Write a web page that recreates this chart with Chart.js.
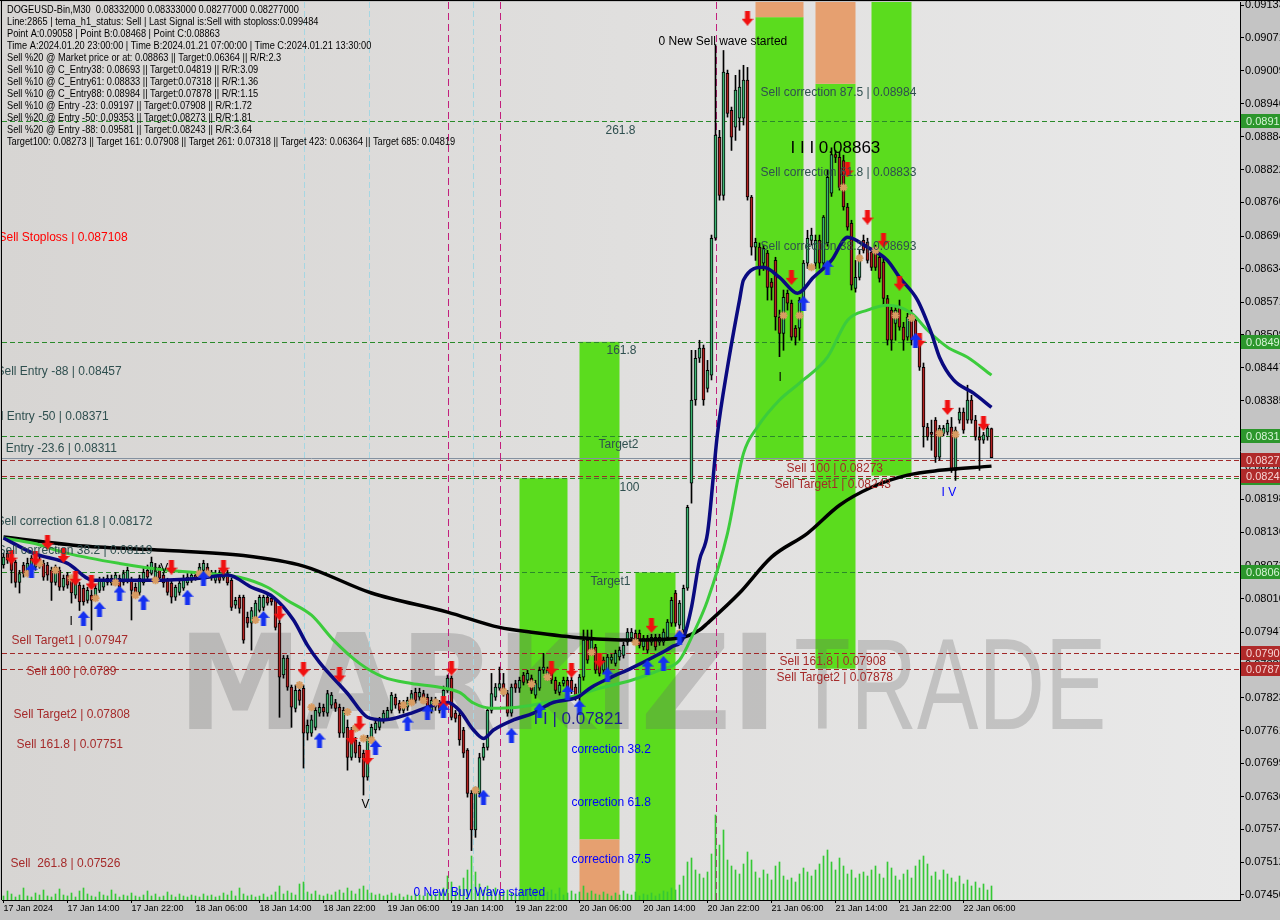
<!DOCTYPE html>
<html>
<head>
<meta charset="utf-8">
<title>DOGEUSD-Bin,M30</title>
<script src="https://cdn.jsdelivr.net/npm/chart.js@4.4.1/dist/chart.umd.min.js"></script>
<style>
  html, body { margin: 0; padding: 0; background: #c4c4c4; }
  #wrap { width: 1280px; height: 920px; }
</style>
</head>
<body>
<div id="wrap"><canvas id="chart" width="1280" height="920"></canvas></div>
<script>
// ── Candles: [open, high, low, close], M30 bars from 17 Jan 06:00 ──
const candles = [
  [.08074,.08096,.08068,.08089],[.08096,.08102,.08077,.08083],[.08083,.08089,.08040,.08064],[.08079,.08083,.08032,.08041],
  [.08041,.08064,.08021,.08058],[.08074,.08079,.08051,.08058],[.08064,.08087,.08058,.08077],[.08070,.08092,.08064,.08087],
  [.08070,.08083,.08064,.08077],[.08074,.08089,.08068,.08079],[.08077,.08083,.08045,.08051],[.08074,.08079,.08045,.08055],
  [.08064,.08070,.08007,.08041],[.08041,.08074,.08036,.08070],[.08064,.08070,.08026,.08032],[.08032,.08055,.08026,.08049],
  [.08055,.08060,.08030,.08036],[.08045,.08049,.08002,.08021],[.08017,.08045,.08011,.08041],[.08036,.08041,.07988,.08004],
  [.08030,.08036,.07998,.08004],[.08007,.08032,.08002,.08026],[.08017,.08026,.07951,.08007],[.08011,.08036,.08007,.08030],
  [.08026,.08051,.08022,.08045],[.08032,.08051,.08026,.08045],[.08041,.08055,.08036,.08049],[.08040,.08055,.08036,.08049],
  [.08041,.08060,.08036,.08055],[.08049,.08055,.08026,.08032],[.08041,.08064,.08036,.08058],[.08045,.08070,.08040,.08064],
  [.08045,.08051,.07970,.08026],[.08032,.08040,.08013,.08022],[.08022,.08055,.08017,.08049],[.08040,.08068,.08036,.08060],
  [.08064,.08074,.08045,.08051],[.08058,.08089,.08055,.08079],[.08051,.08077,.08045,.08070],[.08070,.08074,.08045,.08049],
  [.08055,.08060,.08032,.08040],[.08045,.08049,.08017,.08022],[.08040,.08045,.08002,.08013],[.08013,.08036,.08007,.08032],
  [.08022,.08045,.08017,.08040],[.08030,.08055,.08026,.08049],[.08040,.08058,.08036,.08051],[.08045,.08060,.08041,.08055],
  [.08055,.08060,.08045,.08049],[.08058,.08077,.08053,.08070],[.08064,.08083,.08058,.08077],[.08070,.08077,.08049,.08055],
  [.08060,.08064,.08045,.08051],[.08045,.08064,.08040,.08058],[.08058,.08064,.08040,.08045],[.08049,.08070,.08045,.08064],
  [.08058,.08064,.08036,.08040],[.08045,.08049,.07988,.07994],[.07998,.08013,.07992,.08007],[.08013,.08017,.07983,.07992],
  [.08013,.08017,.07926,.07932],[.07975,.07985,.07956,.07964],[.07964,.07994,.07913,.07988],[.07975,.08007,.07970,.08002],
  [.07988,.08017,.07985,.08013],[.07994,.08017,.07988,.08013],[.08013,.08019,.07998,.08002],[.08011,.08015,.07998,.08004],
  [.08007,.08011,.07951,.07956],[.07964,.07970,.07786,.07862],[.07866,.07903,.07860,.07898],[.07898,.07903,.07837,.07843],
  [.07843,.07847,.07767,.07805],[.07803,.07847,.07796,.07837],[.07837,.07847,.07809,.07818],[.07841,.07847,.07690,.07756],
  [.07756,.07781,.07743,.07771],[.07756,.07790,.07750,.07781],[.07767,.07805,.07762,.07799],[.07794,.07813,.07788,.07805],
  [.07805,.07811,.07788,.07796],[.07794,.07837,.07788,.07831],[.07809,.07833,.07803,.07828],[.07814,.07820,.07797,.07803],
  [.07805,.07811,.07748,.07756],[.07756,.07805,.07748,.07799],[.07767,.07781,.07686,.07710],[.07710,.07767,.07705,.07762],
  [.07743,.07748,.07710,.07718],[.07733,.07739,.07701,.07709],[.07718,.07724,.07639,.07673],[.07673,.07752,.07667,.07748],
  [.07743,.07773,.07737,.07767],[.07762,.07781,.07756,.07775],[.07767,.07786,.07762,.07781],[.07781,.07799,.07775,.07794],
  [.07784,.07805,.07781,.07799],[.07799,.07833,.07794,.07828],[.07824,.07830,.07803,.07809],[.07813,.07818,.07794,.07799],
  [.07799,.07818,.07794,.07813],[.07805,.07824,.07799,.07818],[.07818,.07837,.07813,.07831],[.07833,.07841,.07813,.07818],
  [.07824,.07841,.07818,.07833],[.07831,.07837,.07813,.07818],[.07824,.07830,.07799,.07805],[.07799,.07824,.07794,.07818],
  [.07818,.07824,.07799,.07805],[.07813,.07818,.07794,.07799],[.07818,.07845,.07813,.07837],[.07837,.07866,.07833,.07860],
  [.07860,.07864,.07781,.07786],[.07794,.07799,.07777,.07784],[.07790,.07796,.07733,.07743],[.07762,.07767,.07710,.07718],
  [.07724,.07727,.07635,.07642],[.07642,.07648,.07534,.07573],[.07573,.07654,.07559,.07648],[.07642,.07718,.07635,.07710],
  [.07710,.07737,.07705,.07729],[.07729,.07805,.07724,.07799],[.07799,.07869,.07794,.07831],[.07824,.07850,.07818,.07843],
  [.07841,.07881,.07837,.07850],[.07850,.07869,.07826,.07831],[.07831,.07837,.07788,.07794],[.07794,.07849,.07788,.07843],
  [.07850,.07856,.07833,.07841],[.07841,.07862,.07833,.07856],[.07866,.07871,.07847,.07852],[.07856,.07875,.07850,.07869],
  [.07860,.07866,.07831,.07837],[.07828,.07856,.07822,.07850],[.07841,.07881,.07837,.07875],[.07875,.07907,.07869,.07881],
  [.07862,.07881,.07856,.07875],[.07875,.07881,.07850,.07856],[.07856,.07862,.07831,.07837],[.07833,.07852,.07828,.07847],
  [.07850,.07862,.07845,.07856],[.07856,.07862,.07835,.07841],[.07856,.07862,.07831,.07837],[.07843,.07849,.07818,.07824],
  [.07824,.07867,.07818,.07862],[.07862,.07951,.07856,.07932],[.07932,.07951,.07888,.07894],[.07909,.07951,.07903,.07932],
  [.07919,.07924,.07869,.07875],[.07894,.07900,.07864,.07869],[.07875,.07900,.07869,.07894],[.07875,.07905,.07869,.07900],
  [.07894,.07905,.07888,.07900],[.07888,.07913,.07883,.07907],[.07900,.07919,.07894,.07913],[.07903,.07928,.07898,.07922],
  [.07928,.07954,.07922,.07947],[.07936,.07954,.07930,.07947],[.07945,.07951,.07926,.07932],[.07945,.07951,.07917,.07922],
  [.07919,.07941,.07913,.07936],[.07936,.07941,.07907,.07913],[.07928,.07943,.07922,.07937],[.07937,.07943,.07913,.07919],
  [.07928,.07943,.07922,.07937],[.07928,.07953,.07922,.07947],[.07937,.07971,.07932,.07966],[.07964,.08013,.07958,.08007],
  [.08021,.08026,.07958,.07964],[.07960,.08007,.07954,.08002],[.07951,.08036,.07945,.08030],[.08030,.08187,.08026,.08183],
  [.08229,.08480,.08191,.08386],[.08386,.08480,.08376,.08465],[.08465,.08499,.08457,.08484],[.08484,.08490,.08376,.08386],
  [.08408,.08461,.08401,.08442],[.08433,.08698,.08424,.08692],[.08692,.09058,.08688,.08887],[.08883,.08896,.08764,.08773],
  [.08773,.09047,.08764,.09006],[.09004,.09010,.08921,.08928],[.08934,.08940,.08858,.08883],[.08902,.09000,.08877,.08972],
  [.08919,.09010,.08896,.08978],[.08919,.09019,.08906,.08991],[.08991,.09015,.08764,.08770],[.08770,.08773,.08660,.08675],
  [.08675,.08692,.08650,.08684],[.08675,.08683,.08622,.08637],[.08645,.08679,.08631,.08673],[.08664,.08669,.08575,.08599],
  [.08609,.08616,.08575,.08599],[.08650,.08656,.08518,.08543],[.08543,.08556,.08468,.08512],[.08512,.08594,.08480,.08580],
  [.08588,.08594,.08556,.08569],[.08569,.08575,.08499,.08505],[.08522,.08527,.08490,.08505],[.08522,.08580,.08499,.08575],
  [.08575,.08650,.08565,.08645],[.08645,.08707,.08635,.08692],[.08688,.08711,.08679,.08698],[.08645,.08698,.08635,.08688],
  [.08688,.08698,.08635,.08645],[.08645,.08735,.08635,.08732],[.08683,.08821,.08677,.08807],[.08777,.08863,.08771,.08850],
  [.08850,.08858,.08835,.08845],[.08845,.08855,.08783,.08788],[.08839,.08849,.08745,.08751],[.08751,.08758,.08707,.08713],
  [.08720,.08726,.08594,.08603],[.08597,.08650,.08590,.08618],[.08618,.08669,.08613,.08656],[.08688,.08698,.08664,.08669],
  [.08684,.08692,.08645,.08650],[.08666,.08673,.08631,.08637],[.08669,.08679,.08631,.08637],[.08656,.08664,.08609,.08616],
  [.08647,.08654,.08565,.08578],[.08578,.08584,.08490,.08499],[.08556,.08565,.08480,.08499],[.08531,.08565,.08499,.08556],
  [.08561,.08575,.08518,.08524],[.08524,.08533,.08480,.08499],[.08505,.08550,.08499,.08543],[.08550,.08556,.08490,.08499],
  [.08537,.08541,.08490,.08499],[.08505,.08512,.08442,.08448],[.08448,.08456,.08297,.08335],[.08335,.08342,.08310,.08316],
  [.08325,.08348,.08291,.08321],[.08348,.08353,.08268,.08278],[.08278,.08338,.08272,.08333],[.08323,.08338,.08318,.08333],
  [.08325,.08348,.08320,.08342],[.08335,.08353,.08249,.08253],[.08253,.08335,.08234,.08329],[.08348,.08371,.08342,.08363],
  [.08363,.08371,.08323,.08329],[.08348,.08414,.08342,.08386],[.08386,.08395,.08342,.08348],[.08348,.08357,.08310,.08316],
  [.08316,.08335,.08253,.08310],[.08310,.08325,.08304,.08320],[.08316,.08338,.08310,.08333],[.08332,.08333,.08277,.08277]
];

// tick volume per bar
const volumes = [
  4,9,6,3,5,12,4,3,7,5,10,4,3,6,11,5,
  4,7,3,9,12,6,4,3,8,5,4,10,6,3,5,4,
  7,4,3,5,9,4,6,3,4,8,5,3,6,4,3,5,
  4,3,6,4,5,3,4,7,5,9,4,12,6,4,5,3,
  4,6,3,5,8,14,6,9,7,5,16,18,8,6,9,5,
  4,6,5,8,10,7,12,9,6,11,14,10,7,5,6,4,
  5,7,4,6,3,5,4,6,5,4,7,5,6,8,12,24,
  18,9,14,22,30,44,28,16,10,14,9,12,6,8,10,7,
  6,8,5,9,6,11,7,5,8,10,6,12,5,7,9,6,
  8,14,7,9,6,5,8,6,4,7,5,9,6,5,8,4,
  6,5,7,4,6,9,8,12,10,15,24,38,42,30,26,22,
  28,46,85,55,70,40,34,30,26,36,48,40,28,22,30,26,
  20,34,38,24,20,22,18,26,32,28,24,30,36,44,50,38,
  30,42,34,26,30,22,26,28,24,30,34,26,22,38,32,24,
  20,26,30,22,34,40,44,36,24,28,20,30,26,22,18,24,
  16,20,14,18,12,16,10,14
];

// ── Moving averages (bar index, price) ──
const maSlowIdx = [0,20,40,60,75,92,111,124,132,145,157,169,174,176,184,192,201,209,217,226,234,247];
const maSlow = [.08127,.08110,.08102,.08092,.08072,.08021,.07985,.07956,.07947,.07936,.07932,.07936,.07951,.07964,.08021,.08089,.08134,.08187,.08221,.08244,.08253,.08261];
const maMidIdx = [0,7.5,16,29,41,51,59,66,71,77,82.5,89,95,102,109,114,117.5,122,128.5,135,143.5,149,157,164,169,172.5,176,181,185,188.5,194,199,206,211,216,221,227,231,236,241,247];
const maMid = [.08125,.08115,.08096,.08077,.08064,.08058,.08051,.08032,.08007,.07979,.07932,.07888,.07862,.07850,.07843,.07833,.07813,.07803,.07805,.07813,.07828,.07841,.07856,.07875,.07894,.07945,.08007,.08134,.08285,.08335,.08386,.08418,.08467,.08537,.08556,.08565,.08550,.08518,.08486,.08467,.08433];
const maFastIdx = [0,7.5,16,22.5,37,49,56,62,67.5,72.5,76,79,86,91,95,102,106,111,114,117.5,120,122.5,127.5,132.5,137,143.5,147,152,157,162.5,167,170,172,174,176,178.5,181,184,185,190,194,198.5,202.5,207,211,216,221,224,228.5,232,234,237.5,242.5,247];
const maFast = [.08125,.08096,.08077,.08045,.08045,.08049,.08055,.08032,.08013,.07970,.07922,.07890,.07831,.07786,.07781,.07794,.07805,.07814,.07799,.07762,.07746,.07762,.07781,.07794,.07813,.07824,.07843,.07862,.07879,.07900,.07919,.07937,.07994,.08083,.08134,.08323,.08448,.08575,.08613,.08637,.08618,.08588,.08618,.08650,.08694,.08675,.08650,.08618,.08575,.08512,.08467,.08424,.08399,.08372];

// ── Signals ──
const sellIdx = [2,8,11,15,18,22,42,55,69,75,84,87,89,91,110,112,137,142,149,162,186,197,211,216,220,224,229,236,245];
const sellPrice = [.08089,.08087,.08117,.08092,.08049,.08040,.08070,.08070,.07983,.07877,.07866,.07748,.07775,.07710,.07813,.07879,.07879,.07875,.07894,.07960,.09108,.08618,.08821,.08732,.08688,.08607,.08499,.08372,.08342];
const buyIdx = [7,20,24,29,35,46,50,65,79,93,101,106,110,120,127,134,141,144,151,161,165,169,200,206,228];
const buyPrice = [.08064,.07973,.07990,.08021,.08004,.08013,.08049,.07973,.07743,.07729,.07775,.07796,.07799,.07635,.07752,.07799,.07833,.07805,.07866,.07881,.07888,.07937,.08569,.08637,.08499];
const starIdx = [6,9,13,17,23,28,33,38,49,51,63,74,77,86,88,90,92,100,102,105,108,118,125,132,136,147,158,169,195,199,202,210,214,218,223,227,234,238];
const starPrice = [.08058,.08077,.08064,.08049,.08011,.08041,.08017,.08045,.08058,.08058,.07970,.07847,.07805,.07796,.07765,.07746,.07743,.07809,.07814,.07818,.07814,.07648,.07835,.07849,.07862,.07909,.07928,.07945,.08546,.08546,.08637,.08788,.08654,.08669,.08546,.08541,.08323,.08321];

// ── Levels & zones ──
const levelsGreen = [0.08913, 0.08496, 0.08318, 0.08238, 0.08060];
const levelsRed = [0.08273, 0.08243, 0.07908, 0.07878];
const lastPrice = 0.08277;
const swingBlueIdx = [75, 91.25, 117.25];
const swingPinkIdx = [111, 124, 178];

const zoneFrom = [129, 144, 158, 188, 203, 217];
const zoneTo = [141, 154, 168, 200, 213, 227];
const zoneHigh = [0.08238, 0.08496, 0.08060, 0.09110, 0.08984, 0.09139];
const zoneLow = [0.07440, 0.07555, 0.07440, 0.08273, 0.07878, 0.08243];
const warnFrom = [144, 188, 203];
const warnTo = [154, 200, 213];
const warnHigh = [0.07555, 0.09139, 0.09139];
const warnLow = [0.07440, 0.09110, 0.08984];

// ── Axes ──
const xTickIdx = [0,16,32,48,64,80,96,112,128,144,160,176,192,208,224,240];
const xTickLabels = ['17 Jan 2024','17 Jan 14:00','17 Jan 22:00','18 Jan 06:00','18 Jan 14:00','18 Jan 22:00',
  '19 Jan 06:00','19 Jan 14:00','19 Jan 22:00','20 Jan 06:00','20 Jan 14:00','20 Jan 22:00',
  '21 Jan 06:00','21 Jan 14:00','21 Jan 22:00','22 Jan 06:00'];
const yTickVals = [0.09133,0.09071,0.09009,0.08946,0.08884,0.08822,0.08760,0.08696,0.08634,0.08571,0.08509,0.08447,
  0.08385,0.08322,0.08260,0.08198,0.08136,0.08072,0.08010,0.07947,0.07885,0.07823,0.07761,0.07699,0.07636,0.07574,0.07512,0.07450];

// ── Text on chart ──
const headerLines = [
  'DOGEUSD-Bin,M30  0.08332000 0.08333000 0.08277000 0.08277000',
  'Line:2865 | tema_h1_status: Sell | Last Signal is:Sell with stoploss:0.099484',
  'Point A:0.09058 | Point B:0.08468 | Point C:0.08863',
  'Time A:2024.01.20 23:00:00 | Time B:2024.01.21 07:00:00 | Time C:2024.01.21 13:30:00',
  'Sell %20 @ Market price or at: 0.08863 || Target:0.06364 || R/R:2.3',
  'Sell %10 @ C_Entry38: 0.08693 || Target:0.04819 || R/R:3.09',
  'Sell %10 @ C_Entry61: 0.08833 || Target:0.07318 || R/R:1.36',
  'Sell %10 @ C_Entry88: 0.08984 || Target:0.07878 || R/R:1.15',
  'Sell %10 @ Entry -23: 0.09197 || Target:0.07908 || R/R:1.72',
  'Sell %20 @ Entry -50: 0.09353 || Target:0.08273 || R/R:1.81',
  'Sell %20 @ Entry -88: 0.09581 || Target:0.08243 || R/R:3.64',
  'Target100: 0.08273 || Target 161: 0.07908 || Target 261: 0.07318 || Target 423: 0.06364 || Target 685: 0.04819'
];
const slateText = ['Sell Entry -88 | 0.08457','Sell Entry -50 | 0.08371','Sell Entry -23.6 | 0.08311',
  'Sell correction 61.8 | 0.08172','Sell correction 38.2 | 0.08119','Sell correction 87.5 | 0.08984',
  'Sell correction 61.8 | 0.08833','Sell correction 38.2 | 0.08693','261.8','161.8','Target2','100','Target1'];
const slateIdx = [-1.75,-5,-5.25,-1.75,-1.5,189.25,189.25,189.25,150.5,150.75,148.75,154,146.75];
const slatePrice = [0.08457,0.08371,0.08311,0.08172,0.08119,0.08984,0.08833,0.08693,0.08913,0.08496,0.08318,0.08238,0.08060];
const brownText = ['Sell Target1 | 0.07947','Sell 100 | 0.0789','Sell Target2 | 0.07808','Sell 161.8 | 0.07751',
  'Sell  261.8 | 0.07526','Sell 100 | 0.08273','Sell Target1 | 0.08243','Sell 161.8 | 0.07908','Sell Target2 | 0.07878'];
const brownIdx = [2,5.75,2.5,3.25,1.75,195.75,192.75,194,193.25];
const brownPrice = [0.07947,0.0789,0.07808,0.07751,0.07526,0.08273,0.08243,0.07908,0.07878];
const blueText = ['correction 38.2','correction 61.8','correction 87.5','0 New Buy Wave started','I V'];
const blueIdx = [142,142,142,102.5,234.5];
const bluePrice = [0.07741,0.07641,0.07534,0.07472,0.08227];
const blackText = ['0 New Sell wave started','V','I','I','I V'];
const blackIdx = [163.75,89.5,193.75,16.5,37.5];
const blackPrice = [0.09080,0.07637,0.08446,0.07983,0.08085];

const SANS = "'Liberation Sans', Arial, sans-serif";
Chart.defaults.font.family = SANS;

// ── Marker icons ──
function arrowIcon(color, up) {
  const c = document.createElement('canvas');
  c.width = 12; c.height = 15;
  const g = c.getContext('2d');
  g.fillStyle = color;
  g.beginPath();
  [[6,0],[12,7],[8.5,7],[8.5,15],[3.5,15],[3.5,7],[0,7]].forEach(([px, py], k) => {
    const yy = up ? py : 15 - py;
    if (k) g.lineTo(px, yy); else g.moveTo(px, yy);
  });
  g.closePath();
  g.fill();
  return c;
}

// ── Decorations drawn through the scales ──
// text objects are anchored top-left at (bar, price); the terminal font sits ~3px below the anchor
function priceText(ctx, xs, ys, texts, idx, prices, color, font) {
  ctx.fillStyle = color;
  ctx.font = font;
  ctx.textBaseline = 'top';
  texts.forEach((t, k) => ctx.fillText(t, xs.getPixelForValue(idx[k]), ys.getPixelForValue(prices[k]) + 3));
}

function hLine(ctx, a, y, color, dash) {
  ctx.strokeStyle = color;
  ctx.setLineDash(dash);
  ctx.beginPath();
  ctx.moveTo(a.left, Math.round(y) + 0.5);
  ctx.lineTo(a.right, Math.round(y) + 0.5);
  ctx.stroke();
}

const decor = {
  id: 'decor',
  beforeDraw(chart) {
    const { ctx, chartArea: a } = chart;
    ctx.save();
    ctx.fillStyle = '#c4c4c4';
    ctx.fillRect(0, 0, chart.width, chart.height);
    const grad = ctx.createLinearGradient(a.left, 0, a.right, 0);
    grad.addColorStop(0, '#d7d5d3');
    grad.addColorStop(1, '#e9e9e9');
    ctx.fillStyle = grad;
    ctx.fillRect(a.left, a.top, a.right - a.left, a.bottom - a.top);
    ctx.restore();
  },
  beforeDatasetsDraw(chart) {
    const { ctx, chartArea: a, scales: { x: xs, y: ys } } = chart;
    ctx.save();
    ctx.beginPath();
    ctx.rect(a.left, a.top, a.right - a.left, a.bottom - a.top);
    ctx.clip();

    // zones
    ctx.fillStyle = '#5bdc1e';
    zoneFrom.forEach((f, k) => {
      const x0 = xs.getPixelForValue(f), x1 = xs.getPixelForValue(zoneTo[k]);
      const y0 = ys.getPixelForValue(zoneHigh[k]), y1 = ys.getPixelForValue(zoneLow[k]);
      ctx.fillRect(x0, y0, x1 - x0, y1 - y0);
    });
    ctx.fillStyle = '#e6a070';
    warnFrom.forEach((f, k) => {
      const x0 = xs.getPixelForValue(f), x1 = xs.getPixelForValue(warnTo[k]);
      const y0 = ys.getPixelForValue(warnHigh[k]), y1 = ys.getPixelForValue(warnLow[k]);
      ctx.fillRect(x0, y0, x1 - x0, y1 - y0);
    });

    // watermark
    const w = a.right - a.left, h = a.bottom - a.top;
    ctx.fillStyle = 'rgba(105,105,105,0.28)';
    ctx.textBaseline = 'alphabetic';
    ctx.font = "bold 132px 'DejaVu Sans', sans-serif";
    ctx.fillText('MARKIZI', a.left + w * 0.142, a.top + h * 0.81, 600);
    ctx.font = "130px 'Liberation Sans', sans-serif";
    ctx.fillText('TRADE', a.left + w * 0.64, a.top + h * 0.81, 312);

    // levels
    ctx.lineWidth = 1;
    levelsGreen.forEach(p => hLine(ctx, a, ys.getPixelForValue(p), '#2a8a2a', [5, 3]));
    levelsRed.forEach(p => hLine(ctx, a, ys.getPixelForValue(p), '#a02828', [5, 3]));
    hLine(ctx, a, ys.getPixelForValue(lastPrice), '#8491a0', []);

    // swing verticals
    const vLine = (i, color, dash) => {
      const x = Math.round(xs.getPixelForValue(i)) + 0.5;
      ctx.strokeStyle = color;
      ctx.setLineDash(dash);
      ctx.beginPath();
      ctx.moveTo(x, a.top);
      ctx.lineTo(x, a.bottom);
      ctx.stroke();
    };
    swingBlueIdx.forEach(i => vLine(i, '#a6d6e2', [6, 3]));
    swingPinkIdx.forEach(i => vLine(i, '#c21f7c', [7, 4]));
    ctx.restore();
  },
  afterDatasetsDraw(chart) {
    const { ctx, chartArea: a, scales: { x: xs, y: ys } } = chart;
    ctx.save();
    ctx.beginPath();
    ctx.rect(a.left, a.top, a.right - a.left, a.bottom - a.top);
    ctx.clip();
    const f12 = `12px ${SANS}`;
    priceText(ctx, xs, ys, ['Sell Stoploss | 0.087108'], [-1.25], [0.087108], '#ff0000', f12);
    priceText(ctx, xs, ys, slateText, slateIdx, slatePrice, '#2f4f4f', f12);
    priceText(ctx, xs, ys, brownText, brownIdx, brownPrice, '#a52a2a', f12);
    priceText(ctx, xs, ys, blueText, blueIdx, bluePrice, '#0000ff', f12);
    priceText(ctx, xs, ys, blackText, blackIdx, blackPrice, '#000000', f12);
    priceText(ctx, xs, ys, ['I I | 0.07821'], [132.5], [0.07803], '#1f1f8f', `17px ${SANS}`);
    priceText(ctx, xs, ys, ['I I I 0.08863'], [196.75], [0.08883], '#000000', `17px ${SANS}`);

    // header block, squeezed like the terminal font
    ctx.fillStyle = '#000';
    ctx.font = `10.5px ${SANS}`;
    ctx.translate(7, 0);
    ctx.scale(0.88, 1);
    headerLines.forEach((t, k) => ctx.fillText(t, 0, 5 + k * 12));
    ctx.restore();
  },
  afterDraw(chart) {
    const { ctx, chartArea: a, scales: { y: ys } } = chart;
    ctx.save();
    ctx.font = `11px ${SANS}`;
    ctx.textBaseline = 'middle';
    const box = (p, fill, txt) => {
      const y = Math.round(ys.getPixelForValue(p));
      ctx.fillStyle = fill;
      ctx.fillRect(a.right + 1, y - 7, chart.width - a.right, 14);
      ctx.fillStyle = txt;
      ctx.fillText(p.toFixed(5), a.right + 6, y + 0.5);
    };
    levelsGreen.forEach(p => box(p, '#2c962c', '#d6f4d6'));
    levelsRed.forEach(p => box(p, '#b02a2a', '#f6d2d2'));
    ctx.strokeStyle = '#000';
    ctx.lineWidth = 1;
    ctx.beginPath();
    ctx.moveTo(0, 0.5); ctx.lineTo(chart.width, 0.5);
    ctx.moveTo(1.5, 0); ctx.lineTo(1.5, a.bottom);
    ctx.stroke();
    ctx.restore();
  }
};

// ── Datasets ──
const wickData = candles.map((c, i) => ({ x: i, y: [c[2], c[1]] }));
const bodyData = candles.map((c, i) => ({ x: i, y: [Math.min(c[0], c[3]), Math.max(c[0], c[3])] }));
const bodyColors = candles.map(c => (c[3] >= c[0] ? '#3cb371' : '#b22222'));
const volData = volumes.map((v, i) => ({ x: i, y: v }));
const pts = (idx, vals) => idx.map((i, k) => ({ x: i, y: vals[k] }));

const chart = new Chart(document.getElementById('chart'), {
  type: 'bar',
  data: {
    datasets: [
      { type: 'bar', data: volData, yAxisID: 'yv', backgroundColor: '#35c835', barThickness: 1, grouped: false, order: 9 },
      { type: 'bar', data: wickData, backgroundColor: '#000', barThickness: 1, grouped: false, order: 8 },
      { type: 'bar', data: bodyData, backgroundColor: bodyColors, borderColor: '#000', borderWidth: 1,
        borderSkipped: false, barThickness: 3, minBarLength: 1, grouped: false, order: 7 },
      { type: 'line', data: pts(maSlowIdx, maSlow), borderColor: '#000', borderWidth: 3.5, pointRadius: 0,
        cubicInterpolationMode: 'monotone', order: 6 },
      { type: 'line', data: pts(maMidIdx, maMid), borderColor: '#3ccc3c', borderWidth: 3, pointRadius: 0,
        cubicInterpolationMode: 'monotone', order: 5 },
      { type: 'line', data: pts(maFastIdx, maFast), borderColor: '#0a0a80', borderWidth: 3.5, pointRadius: 0,
        cubicInterpolationMode: 'monotone', order: 4 },
      { type: 'scatter', data: pts(starIdx, starPrice), pointStyle: 'star', pointRadius: 4,
        borderColor: '#d89c62', borderWidth: 2, backgroundColor: '#d89c62', order: 3 },
      { type: 'scatter', data: pts(sellIdx, sellPrice), pointStyle: arrowIcon('#f01010', false), order: 2 },
      { type: 'scatter', data: pts(buyIdx, buyPrice), pointStyle: arrowIcon('#1530f0', true), order: 1 }
    ]
  },
  options: {
    responsive: false,
    animation: false,
    devicePixelRatio: 1,
    layout: { autoPadding: false, padding: { left: 2, top: 2, right: 0, bottom: 0 } },
    plugins: { legend: { display: false }, tooltip: { enabled: false } },
    scales: {
      x: {
        type: 'linear', min: -0.375, max: 309.125, offset: false,
        afterBuildTicks: s => { s.ticks = xTickIdx.map(v => ({ value: v })); },
        afterFit: s => { s.height = 20; s.paddingLeft = 0; s.paddingRight = 0; },
        grid: { drawOnChartArea: false, tickLength: 3, color: '#000', offset: false },
        border: { color: '#000' },
        ticks: {
          callback: (v, k) => xTickLabels[k], align: 'start', autoSkip: false,
          maxRotation: 0, minRotation: 0, padding: 0, color: '#000',
          font: { family: SANS, size: 9 }
        }
      },
      y: {
        type: 'linear', position: 'right', min: 0.074405, max: 0.091387,
        afterBuildTicks: s => { s.ticks = yTickVals.map(v => ({ value: v })); },
        afterFit: s => { s.width = 40; s.paddingTop = 0; s.paddingBottom = 0; },
        grid: { drawOnChartArea: false, tickLength: 4, color: '#000' },
        border: { color: '#000' },
        ticks: { callback: v => v.toFixed(5), color: '#000', padding: 1, font: { family: SANS, size: 11 } }
      },
      yv: { type: 'linear', display: false, min: 0, max: 898 }
    }
  },
  plugins: [decor]
});
</script>
</body>
</html>
